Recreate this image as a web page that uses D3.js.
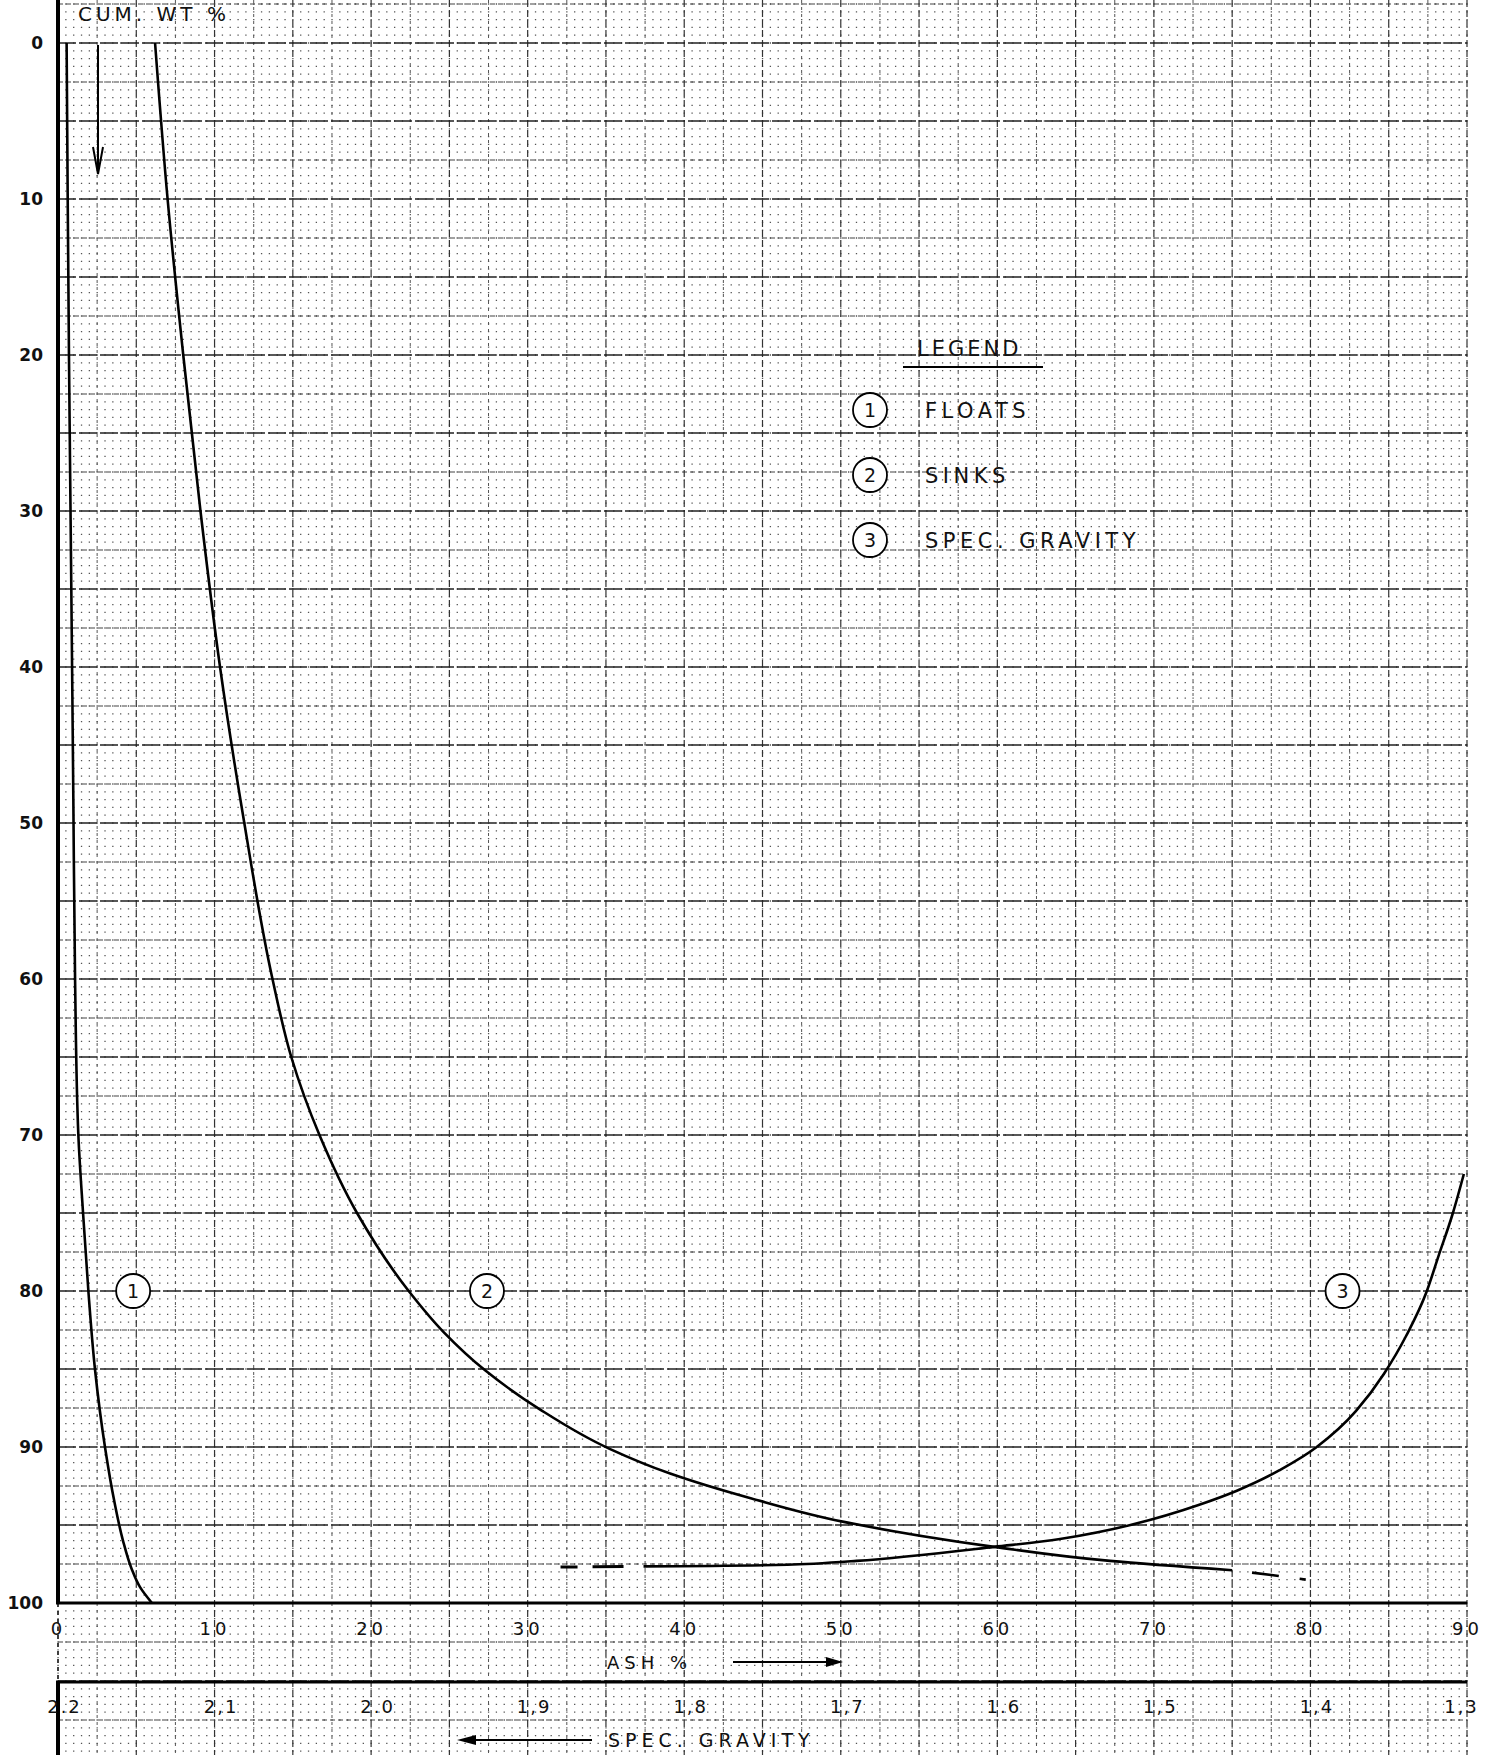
<!DOCTYPE html>
<html>
<head>
<meta charset="utf-8">
<script src="https://cdn.jsdelivr.net/npm/d3@7"></script>
<style>
body { margin: 0; background: #fff; }
svg text { font-family: "DejaVu Sans", sans-serif; fill: #111; }
</style>
</head>
<body>
<div id="chart"></div>
<script>

// tick labels
var wtTicks = [0, 10, 20, 30, 40, 50, 60, 70, 80, 90, 100];
var ashTicks = [0, 10, 20, 30, 40, 50, 60, 70, 80, 90];
var sgTicks = [2.2, 2.1, 2.0, 1.9, 1.8, 1.7, 1.6, 1.5, 1.4, 1.3];
var sgLabels = ["2.2", "2,1", "2.0", "1,9", "1,8", "1,7", "1.6", "1,5", "1,4", "1,3"];

// (1) floats : cum. ash % against cum. wt %
var floatsWt  = [0, 10, 20, 30, 40, 48.5, 60, 70, 75, 80, 85, 90, 93.5, 96, 97.8, 99, 100];
var floatsAsh = [0.55, 0.62, 0.7, 0.8, 0.9, 0.98, 1.09, 1.3, 1.6, 1.94, 2.36, 3.0, 3.6, 4.15, 4.7, 5.25, 6.0];

// (2) sinks
var sinksWt  = [0, 10, 20, 30, 40, 50, 60, 65, 70, 75, 80, 82.6, 85.1, 87.6, 90.1, 91.7, 93.3, 94.8, 96.4, 97.3, 97.9];
var sinksAsh = [6.2, 7.0, 8.0, 9.1, 10.35, 11.9, 13.7, 14.9, 16.7, 19.1, 22.4, 24.6, 27.3, 30.8, 35.2, 39.1, 44.3, 50.2, 59.8, 67.2, 75.0];
var sinksTailWt  = [97.9, 98.2, 98.5];
var sinksTailAsh = [75.0, 77.5, 79.7];

// (3) spec. gravity against cum. wt %
var gravLeadSG = [1.879, 1.826];
var gravLeadWt = [97.7, 97.65];
var gravSG = [1.826, 1.734, 1.69, 1.602, 1.56, 1.515, 1.471, 1.447, 1.42, 1.396, 1.371, 1.353, 1.339, 1.326, 1.318, 1.309, 1.302];
var gravWt = [97.65, 97.55, 97.3, 96.4, 95.9, 95.0, 93.7, 92.8, 91.5, 90.0, 87.7, 85.3, 82.9, 80.1, 77.7, 75.0, 72.5];

var legendItems = ["FLOATS", "SINKS", "SPEC. GRAVITY"];
var tagAsh = [4.8, 27.4, 82.05],
    tagWt = 80;

var w = 1490,
    h = 1755;

var x = d3.scaleLinear().domain([0, 90]).range([58, 1467]);
var sg = d3.scaleLinear().domain([2.2, 1.3]).range([58, 1467]);
var y = d3.scaleLinear().domain([0, 100]).range([43, 1603]);

var svg = d3.select("#chart")
    .append("svg")
    .attr("width", w)
    .attr("height", h);

// graph paper
var grid = svg.append("g");
var yTop = y.invert(0),
    yBot = y.invert(h),
    half = x(0.5) - x(0);

grid.selectAll("line.dots")
    .data(d3.range(Math.ceil(yTop * 2) / 2, yBot, 0.5))
    .enter()
    .append("line")
    .attr("x1", x(0) - 0.6).attr("x2", x(90) + 1)
    .attr("y1", function(d) { return y(d); })
    .attr("y2", function(d) { return y(d); })
    .attr("stroke", "#555")
    .attr("stroke-width", 1.3)
    .attr("stroke-dasharray", "1.3 " + (half - 1.3));

grid.selectAll("line.vminor")
    .data(d3.range(2.5, 90, 5))
    .enter()
    .append("line")
    .attr("x1", function(d) { return x(d); })
    .attr("x2", function(d) { return x(d); })
    .attr("y1", 0).attr("y2", h)
    .attr("stroke", "#555")
    .attr("stroke-width", 1)
    .attr("stroke-dasharray", "3 4");

grid.selectAll("line.vmajor")
    .data(d3.range(5, 91, 5))
    .enter()
    .append("line")
    .attr("x1", function(d) { return x(d); })
    .attr("x2", function(d) { return x(d); })
    .attr("y1", 0).attr("y2", h)
    .attr("stroke", "#333")
    .attr("stroke-width", 1.2)
    .attr("stroke-dasharray", "7 3");

grid.selectAll("line.hminor")
    .data(d3.range(-2.5, yBot, 5))
    .enter()
    .append("line")
    .attr("x1", x(0)).attr("x2", x(90))
    .attr("y1", function(d) { return y(d); })
    .attr("y2", function(d) { return y(d); })
    .attr("stroke", "#444")
    .attr("stroke-width", 1.1)
    .attr("stroke-dasharray", "5 3");

grid.selectAll("line.hmajor")
    .data(d3.range(0, yBot, 5))
    .enter()
    .append("line")
    .attr("x1", x(0)).attr("x2", x(90))
    .attr("y1", function(d) { return y(d); })
    .attr("y2", function(d) { return y(d); })
    .attr("stroke", "#222")
    .attr("stroke-width", 1.6)
    .attr("stroke-dasharray", "18 3");

// frame lines
svg.append("line").attr("x1", x(0)).attr("x2", x(0)).attr("y1", 0).attr("y2", y(100))
    .attr("stroke", "#000").attr("stroke-width", 4);
svg.append("line").attr("x1", x(0)).attr("x2", x(0)).attr("y1", y(100)).attr("y2", 1682)
    .attr("stroke", "#000").attr("stroke-width", 1.5).attr("stroke-dasharray", "4 4");
svg.append("line").attr("x1", x(0)).attr("x2", x(0)).attr("y1", 1682).attr("y2", h)
    .attr("stroke", "#000").attr("stroke-width", 4);
svg.append("line").attr("x1", x(0) - 2).attr("x2", x(90)).attr("y1", y(100)).attr("y2", y(100))
    .attr("stroke", "#000").attr("stroke-width", 3);
svg.append("line").attr("x1", x(0) - 2).attr("x2", x(90)).attr("y1", 1682).attr("y2", 1682)
    .attr("stroke", "#000").attr("stroke-width", 3);

// axes
var yAxis = svg.append("g")
    .attr("transform", "translate(" + x(0) + ",0)")
    .call(d3.axisLeft(y).tickValues(wtTicks).tickSize(0).tickPadding(15));
yAxis.select(".domain").remove();
yAxis.selectAll("text")
    .attr("font-size", 17)
    .attr("font-weight", "bold")
    .attr("font-family", "DejaVu Sans, sans-serif");

var xAxis = svg.append("g")
    .attr("transform", "translate(0," + y(100) + ")")
    .call(d3.axisBottom(x).tickValues(ashTicks).tickSize(0).tickPadding(19));
xAxis.select(".domain").remove();
xAxis.selectAll("text")
    .attr("font-size", 18)
    .attr("letter-spacing", 4)
    .attr("font-family", "DejaVu Sans, sans-serif");

var sgAxis = svg.append("g")
    .attr("transform", "translate(0,1682)")
    .call(d3.axisBottom(sg).tickValues(sgTicks)
        .tickFormat(function(d, i) { return sgLabels[i]; })
        .tickSize(0).tickPadding(18));
sgAxis.select(".domain").remove();
sgAxis.selectAll("text")
    .attr("font-size", 18)
    .attr("letter-spacing", 2)
    .attr("dx", function(d, i) { return i === sgTicks.length - 1 ? -6 : 6; })
    .attr("font-family", "DejaVu Sans, sans-serif");

// axis titles and arrows
svg.append("text").attr("x", 78).attr("y", 21)
    .attr("font-size", 20).attr("letter-spacing", 4).text("CUM. WT %");
svg.append("line").attr("x1", 98).attr("x2", 98).attr("y1", 45).attr("y2", 172)
    .attr("stroke", "#000").attr("stroke-width", 2);
svg.append("path").attr("d", "M93,147 L98,174 L103,147")
    .attr("fill", "none").attr("stroke", "#000").attr("stroke-width", 2);

svg.append("text").attr("x", 607).attr("y", 1669)
    .attr("font-size", 18).attr("letter-spacing", 5).text("ASH %");
svg.append("line").attr("x1", 733).attr("x2", 830).attr("y1", 1662).attr("y2", 1662)
    .attr("stroke", "#000").attr("stroke-width", 2);
svg.append("path").attr("d", "M843,1662 L826,1657 L826,1667 Z").attr("fill", "#000");

svg.append("text").attr("x", 608).attr("y", 1747)
    .attr("font-size", 19).attr("letter-spacing", 5).text("SPEC. GRAVITY");
svg.append("line").attr("x1", 470).attr("x2", 592).attr("y1", 1740).attr("y2", 1740)
    .attr("stroke", "#000").attr("stroke-width", 2);
svg.append("path").attr("d", "M457,1740 L476,1735 L476,1745 Z").attr("fill", "#000");

// curves
var ashLine = d3.line()
    .x(function(d) { return x(d[0]); })
    .y(function(d) { return y(d[1]); })
    .curve(d3.curveMonotoneY);

var sgLine = d3.line()
    .x(function(d) { return sg(d[0]); })
    .y(function(d) { return y(d[1]); })
    .curve(d3.curveMonotoneX);

var curves = svg.append("g")
    .attr("fill", "none")
    .attr("stroke", "#000")
    .attr("stroke-width", 2.6);

curves.append("path").attr("d", ashLine(d3.zip(floatsAsh, floatsWt)));
curves.append("path").attr("d", ashLine(d3.zip(sinksAsh, sinksWt)));
curves.append("path").attr("d", d3.line()
        .x(function(d) { return x(d[0]); })
        .y(function(d) { return y(d[1]); })(d3.zip(sinksTailAsh, sinksTailWt)))
    .attr("stroke-dasharray", "0 20 27 21 12 80");
curves.append("path").attr("d", sgLine(d3.zip(gravLeadSG, gravLeadWt)))
    .attr("stroke-width", 3)
    .attr("stroke-dasharray", "17 15 31 20");
curves.append("path").attr("d", sgLine(d3.zip(gravSG, gravWt)));

// curve tags
var tags = svg.selectAll("g.tag")
    .data(tagAsh)
    .enter()
    .append("g")
    .attr("transform", function(d) { return "translate(" + x(d) + "," + y(tagWt) + ")"; });
tags.append("circle").attr("r", 17)
    .attr("fill", "#fff").attr("stroke", "#000").attr("stroke-width", 1.8);
tags.append("text").attr("text-anchor", "middle").attr("dy", "0.36em")
    .attr("font-size", 19)
    .text(function(d, i) { return i + 1; });

// legend
svg.append("text").attr("x", 917).attr("y", 356)
    .attr("font-size", 21).attr("letter-spacing", 3).text("LEGEND");
svg.append("line").attr("x1", 903).attr("x2", 1043).attr("y1", 367).attr("y2", 367)
    .attr("stroke", "#000").attr("stroke-width", 2);

var items = svg.selectAll("g.item")
    .data(legendItems)
    .enter()
    .append("g")
    .attr("transform", function(d, i) { return "translate(870," + (410 + i * 65) + ")"; });
items.append("circle").attr("r", 17)
    .attr("fill", "#fff").attr("stroke", "#000").attr("stroke-width", 1.8);
items.append("text").attr("text-anchor", "middle").attr("dy", "0.36em")
    .attr("font-size", 19)
    .text(function(d, i) { return i + 1; });
items.append("text").attr("x", 55).attr("dy", "0.36em")
    .attr("font-size", 21).attr("letter-spacing", 4.5)
    .text(function(d) { return d; });

</script>
</body>
</html>
